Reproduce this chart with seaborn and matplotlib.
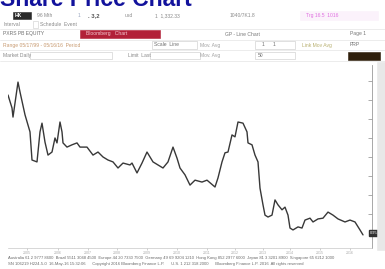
# -*- coding: utf-8 -*-
# Share Price Chart - recriação do gráfico estilo terminal

import pandas as pd
import matplotlib.pyplot as plt
import seaborn as sns
from matplotlib.patches import Rectangle

# --- Dados ---
semana = [0, 4, 5, 10, 12, 17, 22, 24, 29, 32, 34, 37, 40, 44, 47, 49, 52, 54, 55, 59,
          64, 69, 72, 79, 85, 90, 95, 100, 105, 110, 115, 122, 124, 129, 134, 139, 142,
          145, 150, 155, 160, 165, 169, 172, 177, 182, 187, 194, 199, 207, 210, 214, 217,
          220, 224, 227, 230, 235, 239, 240, 244, 247, 250, 252, 255, 257, 260, 264, 267,
          270, 274, 277, 280, 282, 285, 290, 294, 297, 302, 305, 310, 315, 320, 325, 330,
          337, 342, 347, 352, 355]
preco = [4.63, 4.29, 4.05, 4.97, 4.71, 4.11, 3.66, 2.92, 2.87, 3.66, 3.89, 3.39, 3.05,
         3.13, 3.50, 3.37, 3.92, 3.66, 3.37, 3.26, 3.32, 3.37, 3.26, 3.26, 3.05, 3.13,
         3.00, 2.92, 2.87, 2.71, 2.84, 2.79, 2.84, 2.58, 2.84, 3.13, 3.00, 2.87, 2.79,
         2.71, 2.87, 3.26, 2.97, 2.71, 2.53, 2.26, 2.39, 2.34, 2.39, 2.21, 2.45, 2.87,
         3.11, 3.13, 3.58, 3.53, 3.92, 3.89, 3.66, 3.37, 3.32, 3.05, 2.87, 2.18, 1.74,
         1.47, 1.42, 1.47, 1.87, 1.74, 1.61, 1.68, 1.47, 1.13, 1.08, 1.16, 1.13, 1.34,
         1.39, 1.29, 1.37, 1.39, 1.55, 1.47, 1.37, 1.29, 1.34, 1.29, 1.08, 0.95]

ticks_x = [19, 50, 80, 109, 139, 169, 199, 227, 255, 282, 312, 342]
rotulos_x = ["2005", "2006", "2007", "2008", "2009", "2010", "2011", "2012",
             "2013", "2014", "2015", "2016"]
ticks_y = [1.5, 2.0, 2.5, 3.0, 3.5, 4.0, 4.5, 5.0]
ultimo = 0.95

df = pd.DataFrame({"semana": semana, "preco": preco})

sns.set_theme(style="white")
plt.rcParams['font.family'] = ['Liberation Sans', 'DejaVu Sans']

fig = plt.figure(figsize=(3.85, 2.69), dpi=100)
W, H = 385.0, 269.0


def fx(px):
    return px / W


def fy(py):
    return 1 - py / H


# --- Título (cortado no topo, como na imagem) ---
fig.text(fx(0), fy(5.5), "Share Price Chart", fontsize=16.5, fontweight="bold",
         color="#12129c", va="baseline", ha="left")

# --- Cabeçalho estilo terminal ---
def caixa(x0, y0, x1, y1, cor, borda=None, z=1):
    fig.patches.append(Rectangle((fx(x0), fy(y1)), fx(x1) - fx(x0), fy(y0) - fy(y1),
                                 transform=fig.transFigure, facecolor=cor,
                                 edgecolor=borda or cor, linewidth=0.4, zorder=z))


def texto(x, y, s, cor="#8a8a8a", peso="normal", tam=3.6):
    fig.text(fx(x), fy(y), s, fontsize=tam, color=cor, fontweight=peso,
             va="center", ha="left")


# linha 1
caixa(13, 12, 31, 19, "#2a2a2a")
texto(15, 15.5, "HK", cor="white", peso="bold")
texto(37, 15.5, "96 Mth")
texto(78, 15.5, "1", cor="#9aa6c0")
texto(88, 15.5, ". 3,2", cor="#555555", peso="bold", tam=4.2)
texto(125, 15.5, "usd")
texto(155, 15.5, "1  1,332.33")
texto(230, 15.5, "1040/7K1.8")
caixa(300, 11, 378, 20, "#fbf2fb")
texto(306, 15.5, "Trg 16.5  1016", cor="#e070e0")

# linha 2
texto(3, 24.5, "Interval")
caixa(33, 21, 38, 28, "white", "#cccccc")
texto(40, 24.5, "Schedule  Event")

# linha 3
texto(3, 34, "PXRS PB EQUITY", cor="#707070")
caixa(80, 30, 160, 38, "#b22038")
texto(86, 34, "Bloomberg   Chart", cor="#f4c8d0")
texto(225, 34, "GP - Line Chart", cor="#777777")
texto(350, 34, "Page 1", cor="#777777")

# linha 4
texto(3, 45, "Range 05/17/99 - 05/16/16  Period", cor="#c89a70")
caixa(152, 41, 197, 49, "white", "#c8c8c8")
texto(154, 45, "Scale  Line", cor="#707070")
texto(200, 45, "Mov. Avg", cor="#a0a0a0")
caixa(255, 41, 295, 49, "white", "#c8c8c8")
texto(262, 45, "1      1", cor="#707070")
texto(302, 45, "Link Mov Avg", cor="#b8b070")
texto(350, 45, "PRP", cor="#707070")

# linha 5
caixa(30, 52, 112, 59, "white", "#c8c8c8")
texto(3, 55.5, "Market Daily", cor="#8a8a8a")
caixa(150, 52, 200, 59, "white", "#c8c8c8")
texto(128, 55.5, "Limit  Last", cor="#8a8a8a")
texto(200, 55.5, "Mov. Avg", cor="#a0a0a0")
caixa(255, 52, 295, 59, "white", "#c8c8c8")
texto(258, 55.5, "50", cor="#707070")
caixa(348, 52, 380, 60, "#2e1e0a")

# separadores
for yy in [29, 40, 50, 61]:
    fig.add_artist(plt.Line2D([0, 1], [fy(yy), fy(yy)], color="#e4e4e4", lw=0.5))

# faixa cinza à direita (atrás do eixo)
caixa(377, 62, 385, 250, "#e8e8e8", z=0)

# --- Gráfico de preço ---
ax = fig.add_axes([fx(8), fy(248), fx(364), (248 - 65) / H])
ax.patch.set_alpha(0)
sns.lineplot(data=df, x="semana", y="preco", ax=ax, color="#383838", linewidth=1.0)
ax.set_xlim(0, 364)
ax.set_ylim(0.605, 5.42)
ax.set_xlabel("")
ax.set_ylabel("")

ax.yaxis.tick_right()
ax.set_yticks(ticks_y)
ax.set_yticklabels([])
ax.tick_params(axis="y", direction="in", length=3, width=0.5, colors="#8a8a8a", right=True)
ax.set_xticks(ticks_x)
ax.set_xticklabels(rotulos_x, fontsize=2.6, color="#8a8a8a")
ax.tick_params(axis="x", length=1.5, width=0.4, colors="#aaaaaa", pad=1, bottom=True)

for lado in ["top", "left"]:
    ax.spines[lado].set_visible(False)
ax.spines["right"].set_color("#9a9a9a")
ax.spines["right"].set_linewidth(0.6)
ax.spines["bottom"].set_color("#c8c8c8")
ax.spines["bottom"].set_linewidth(0.5)

# marcador do último preço
ax.annotate(f"{ultimo:.2f}", xy=(1.0, ultimo + 0.05), xycoords=("axes fraction", "data"),
            xytext=(-1.5, 0), textcoords="offset points", fontsize=2.9, color="white",
            va="center", ha="left", annotation_clip=False,
            bbox=dict(boxstyle="square,pad=0.3", fc="#303030", ec="#303030"))

# --- Rodapé ---
texto(8, 258.5, "Australia 61 2 9777 8600  Brazil 5511 3048 4500  Europe 44 20 7330 7500  "
      "Germany 49 69 9204 1210  Hong Kong 852 2977 6000  Japan 81 3 3201 8900  Singapore 65 6212 1000",
      cor="#6a6a6a", tam=2.95)
texto(8, 264.5, "SN 106219 H224-5-0  16-May-16 15:32:06      Copyright 2016 Bloomberg Finance L.P.      "
      "U.S. 1 212 318 2000      Bloomberg Finance L.P. 2016  All rights reserved",
      cor="#6a6a6a", tam=2.95)

fig.savefig("out.png", dpi=100, facecolor="white")
